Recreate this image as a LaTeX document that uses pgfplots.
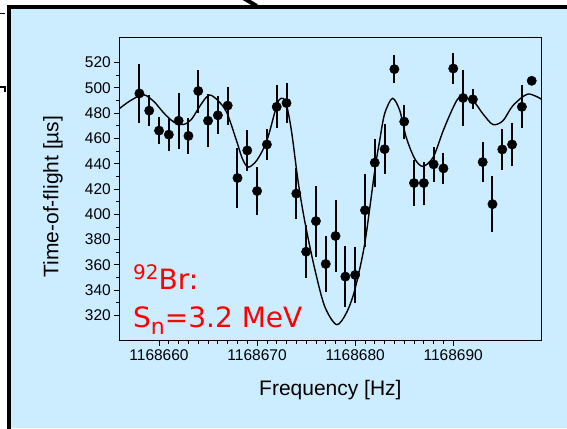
\documentclass[border=0pt]{standalone}
\usepackage{fontspec}
\setmainfont{Liberation Sans}
\newfontfamily\notefont{DejaVu Sans}
\usepackage{pgfplots}
\pgfplotsset{compat=1.18}
\usepackage{pgfplotstable}

\definecolor{panelblue}{RGB}{204,236,255}
\definecolor{notered}{RGB}{255,0,0}

% frequency offset from 1168650 Hz, time of flight in microseconds, error
\pgfplotstableread{
x y err
8 495.6 23
9 482.0 12
10 466.2 11
11 463.0 13
12 474.0 22
13 462.0 14
14 497.5 17
15 474.0 21
16 478.3 15
17 486.0 15
18 428.7 24
19 450.5 16
20 418.4 19
21 455.2 12.5
22 485.0 17
23 488.0 16
24 416.4 20
25 370.4 21
26 394.6 28
27 360.7 22
28 382.8 28.5
29 350.7 24
30 352.0 22
31 403.2 29
32 440.8 19
33 451.5 20
34 514.8 11
35 473.3 13.5
36 424.7 18
37 424.7 17
38 439.5 14
39 436.3 12
40 515.3 12.5
41 492.0 22
42 490.9 8
43 441.3 16
44 408.0 22
45 451.3 16
46 455.2 16.7
47 485.0 17
48 505.6 3
}\tofdata

% fitted resonance curve
\pgfplotstableread{
x y
5.95 483.5
7.0 489.5
8.4 494.6
9.5 489.0
10.5 480.0
11.5 473.0
12.47 471.0
13.3 475.0
14.2 486.0
15.1 494.3
16.0 490.0
16.9 480.6
17.9 458.3
18.5 444.0
19.1 437.3
20.0 443.0
21.0 458.3
22.0 486.0
22.44 491.7
22.93 488.5
23.5 466.2
24.2 425.0
24.9 392.8
25.9 356.0
26.9 327.0
28.1 312.7
29.1 321.9
29.96 340.2
30.98 377.0
32.0 434.7
32.5 458.3
33.0 479.4
33.8 491.7
34.55 482.0
35.2 461.0
36.07 444.0
36.9 437.9
37.96 445.2
38.98 466.2
40.0 484.6
40.67 492.4
42.0 489.8
43.03 479.4
44.05 471.0
45.07 474.0
46.09 486.0
47.6 495.1
49.0 491.0
}\fitdata

\begin{document}
\begin{tikzpicture}[x=1pt,y=1pt]
\useasboundingbox (0,0) rectangle (567,428);
\fill[white] (0,0) rectangle (567,428);
\fill[panelblue] (8.7,0) rectangle (567,421);
\draw[line width=4pt] (8.7,-3) -- (8.7,421) -- (570,421);
\draw[line width=4pt] (243.3,430) -- (256.7,422);
\draw[line width=1.2pt] (0,414.7) -- (5,414.7);
\draw[line width=1.2pt] (0,341) -- (6,341) (5,341) -- (5,336);

\begin{axis}[
  at={(119.3pt,87.3pt)}, anchor=south west,
  scale only axis, width=422.2pt, height=303.4pt,
  xmin=5.95, xmax=49, ymin=300, ymax=540,
  axis line style={line width=0.9pt},
  tick pos=left, tick align=outside,
  major tick length=5pt, minor tick length=3pt,
  every tick/.style={black, line width=0.8pt},
  xtick={10,20,30,40},
  xticklabels={1168660,1168670,1168680,1168690},
  minor x tick num=9,
  ytick={320,340,...,520}, minor y tick num=1,
  /pgf/number format/assume math mode=true,
  tick label style={font=\fontsize{15.5}{18}\selectfont},
  xlabel={Frequency [Hz]},
  ylabel={Time-of-flight [µs]},
  every axis x label/.style={at={([yshift=-54.3pt]axis description cs:0.5,0)},
    anchor=base, font=\fontsize{21}{25}\selectfont},
  every axis y label/.style={at={([xshift=-60.8pt]axis description cs:0,0.475)},
    anchor=base, rotate=90, font=\fontsize{21}{25}\selectfont},
]
\addplot[black, line width=1.4pt, smooth, tension=0.5] table[x=x, y=y] {\fitdata};
\addplot[only marks, mark=*, mark size=4.7pt, black,
  error bars/.cd, y dir=both, y explicit,
  error bar style={line width=2pt, black}, error mark=none]
  table[x=x, y=y, y error=err] {\tofdata};
\end{axis}

\node[anchor=base west, inner sep=0pt, text=notered, font=\notefont\fontsize{28}{30}\selectfont]
  at (133,138) {{\fontsize{20}{20}\selectfont\raisebox{10pt}{92}}Br:};
\node[anchor=base west, inner sep=0pt, text=notered, font=\notefont\fontsize{28}{30}\selectfont]
  at (133,100) {S{\fontsize{22}{22}\selectfont\raisebox{-7pt}{n}}=3.2 MeV};
\end{tikzpicture}
\end{document}
